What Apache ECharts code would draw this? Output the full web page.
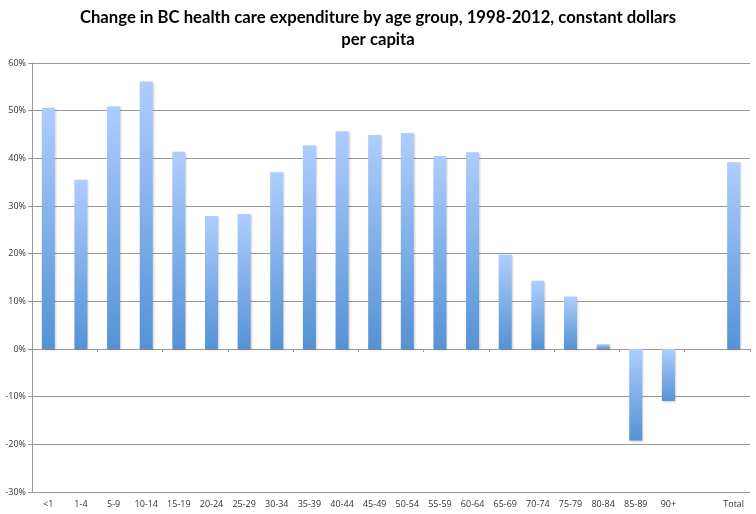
<!DOCTYPE html>
<html>
<head>
<meta charset="utf-8">
<script src="https://cdn.jsdelivr.net/npm/echarts@6/dist/echarts.min.js"></script>
<style>html,body{margin:0;padding:0;background:#fff;}#c{width:756px;height:514px;}</style>
</head>
<body>
<div id="c"></div>
<script>
var titleText = "Change in BC health care expenditure by age group, 1998-2012, constant dollars\nper capita";
var categories = ["<1","1-4","5-9","10-14","15-19","20-24","25-29","30-34","35-39","40-44","45-49","50-54","55-59","60-64","65-69","70-74","75-79","80-84","85-89","90+","","Total"];
var values = [50.6, 35.5, 50.9, 56.1, 41.4, 27.9, 28.3, 37.1, 42.7, 45.7, 44.9, 45.3, 40.5, 41.3, 19.8, 14.3, 11.0, 1.0, -19.2, -10.9, null, 39.2];
var yMin = -30, yMax = 60, yStep = 10;

var chart = echarts.init(document.getElementById('c'));
var fontFam = "'Open Sans', 'Liberation Sans', sans-serif";
chart.setOption({
  animation: false,
  backgroundColor: '#fff',
  title: {
    text: titleText,
    left: 'center',
    top: 2,
    textStyle: { fontFamily: "Lato, 'Open Sans', sans-serif", fontWeight: 'bold', fontSize: 16.7, lineHeight: 22, color: '#000' }
  },
  grid: { left: 32, right: 6, top: 63, bottom: 22, containLabel: false },
  xAxis: [
    {
      type: 'category', data: categories, position: 'bottom',
      axisLine: { show: false, onZero: false },
      axisTick: { show: false },
      axisLabel: { interval: 0, fontFamily: fontFam, fontSize: 9, color: '#333', margin: 8 }
    },
    {
      type: 'category', data: categories, position: 'bottom',
      axisLine: { show: true, onZero: true, lineStyle: { color: '#999', width: 1 } },
      axisTick: { show: true, inside: false, length: 3, lineStyle: { color: '#999' } },
      axisLabel: { show: false }
    }
  ],
  yAxis: {
    type: 'value', min: yMin, max: yMax, interval: yStep,
    axisLine: { show: true, lineStyle: { color: '#999' } },
    axisTick: { show: true, length: 4, lineStyle: { color: '#999' } },
    axisLabel: { formatter: '{value}%', fontFamily: fontFam, fontSize: 9, color: '#333', margin: 6 },
    splitLine: { show: true, lineStyle: { color: '#999', width: 1 } }
  },
  series: [{
    type: 'bar',
    xAxisIndex: 0,
    data: values,
    barWidth: 13,
    itemStyle: {
      color: new echarts.graphic.LinearGradient(0, 0, 0, 1, [
        { offset: 0, color: '#aecdfd' },
        { offset: 1, color: '#5592d5' }
      ]),
      shadowColor: 'rgba(0,0,0,0.18)',
      shadowBlur: 2,
      shadowOffsetX: 1,
      shadowOffsetY: 1
    }
  }]
});
</script>
</body>
</html>
